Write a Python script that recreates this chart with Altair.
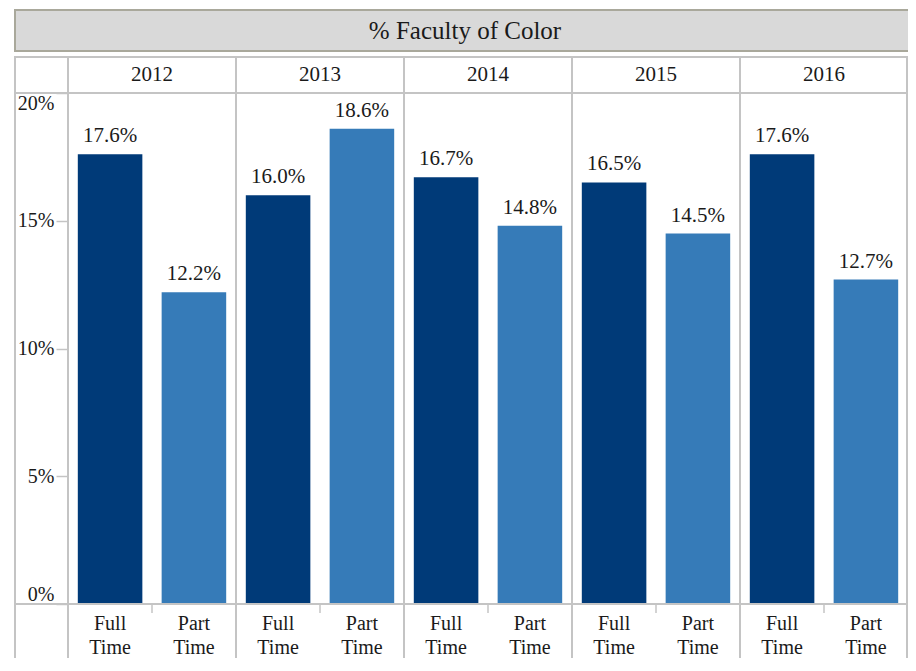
import altair as alt
import pandas as pd

# ---- data ----
years = ["2012", "2013", "2014", "2015", "2016"]
types = ["Full Time", "Part Time"]
full_time = [0.176, 0.160, 0.167, 0.165, 0.176]
part_time = [0.122, 0.186, 0.148, 0.145, 0.127]
title_text = "% Faculty of Color"
y_ticks = [0.0, 0.05, 0.10, 0.15, 0.20]
colors = ["#003a78", "#367bb8"]

rows = []
for i, yr in enumerate(years):
    rows.append({"year": yr, "type": types[0], "value": full_time[i]})
    rows.append({"year": yr, "type": types[1], "value": part_time[i]})
df = pd.DataFrame(rows)
years_df = pd.DataFrame({"year": years})
one = pd.DataFrame({"k": [0]})
title_df = pd.DataFrame({"t": [title_text]})

LEFT = 60
W, H = 840, 511
FONT = "Liberation Serif"
GRID = "#c4c4c4"
TXT = "#1a1a1a"

band = alt.Scale(paddingInner=0, paddingOuter=0)
xs = alt.X("year:N", sort=years, scale=band, axis=None)
xo = alt.XOffset("type:N", sort=types, scale=alt.Scale(paddingInner=0.23, paddingOuter=0.117))
ys = alt.Y("value:Q", scale=alt.Scale(domain=[0, 0.2], nice=False, zero=True),
           axis=alt.Axis(format=".0%", values=y_ticks, labelFlush=True, grid=False,
                         domain=False, tickColor=GRID, tickSize=12, tickWidth=1.5,
                         labelPadding=2, labelFont=FONT, labelFontSize=20,
                         labelColor=TXT, title=None))

# decorations
title_box = alt.Chart(one).mark_rect(fill="#d9d9d9", stroke="#a9a89b", strokeWidth=2).encode(
    x=alt.value(-(LEFT - 7)), x2=alt.value(W + 20), y=alt.value(-83), y2=alt.value(-42))
title_lbl = alt.Chart(title_df).mark_text(font=FONT, fontSize=25, color=TXT, baseline="middle").encode(
    x=alt.value(465 - 8 - LEFT), y=alt.value(-62), text="t:N")

left_cell = alt.Chart(one).mark_rect(fill="white", stroke=GRID, strokeWidth=2).encode(
    x=alt.value(-(LEFT - 7)), x2=alt.value(0), y=alt.value(-36), y2=alt.value(0))
year_cells = alt.Chart(years_df).mark_rect(fill="white", stroke=GRID, strokeWidth=2).encode(
    x=xs, y=alt.value(-36), y2=alt.value(0))
year_lbl = alt.Chart(years_df).mark_text(font=FONT, fontSize=21, color=TXT, baseline="middle").encode(
    x=xs, y=alt.value(-18), text="year:N")

dividers = alt.Chart(years_df).mark_rule(color=GRID, strokeWidth=2).encode(
    x=alt.X("year:N", sort=years, bandPosition=0, scale=band, axis=None),
    y=alt.value(-36), y2=alt.value(H + 80))
right_edge = alt.Chart(one).mark_rule(color=GRID, strokeWidth=2).encode(
    x=alt.value(W - 1), y=alt.value(-36), y2=alt.value(H + 80))
left_edge = alt.Chart(one).mark_rule(color=GRID, strokeWidth=2).encode(
    x=alt.value(-(LEFT - 7)), y=alt.value(-36), y2=alt.value(H + 80))
bottom_line = alt.Chart(one).mark_rule(color=GRID, strokeWidth=2).encode(
    x=alt.value(-(LEFT - 7)), x2=alt.value(W), y=alt.value(H))
mid_ticks = alt.Chart(years_df).mark_rule(color=GRID, strokeWidth=1.5).encode(
    x=alt.X("year:N", sort=years, bandPosition=0.5, scale=band, axis=None),
    y=alt.value(H), y2=alt.value(H + 9))

bars = alt.Chart(df).mark_bar().encode(
    x=xs, xOffset=xo, y=ys,
    color=alt.Color("type:N", sort=types, scale=alt.Scale(domain=types, range=colors), legend=None))
bar_lbl = alt.Chart(df).mark_text(font=FONT, fontSize=21, color=TXT, baseline="bottom", dy=-8).encode(
    x=xs, xOffset=xo, y="value:Q", text=alt.Text("value:Q", format=".1%"))
x_lbl = alt.Chart(df).mark_text(font=FONT, fontSize=20, color=TXT, baseline="top",
                                lineBreak=" ", lineHeight=24).encode(
    x=xs, xOffset=xo, y=alt.value(H + 10), text="type:N")

chart = alt.layer(
    title_box, title_lbl, left_cell, year_cells, year_lbl,
    dividers, right_edge, left_edge, mid_ticks,
    bars, bottom_line, bar_lbl, x_lbl,
).properties(
    width=W, height=H,
    padding={"left": LEFT, "top": 85, "right": 0, "bottom": 54},
    autosize=alt.AutoSizeParams(type="none"),
).configure(font=FONT).configure_view(stroke=None)

chart.save("out.html", embed_options={"renderer": "svg", "actions": False})
